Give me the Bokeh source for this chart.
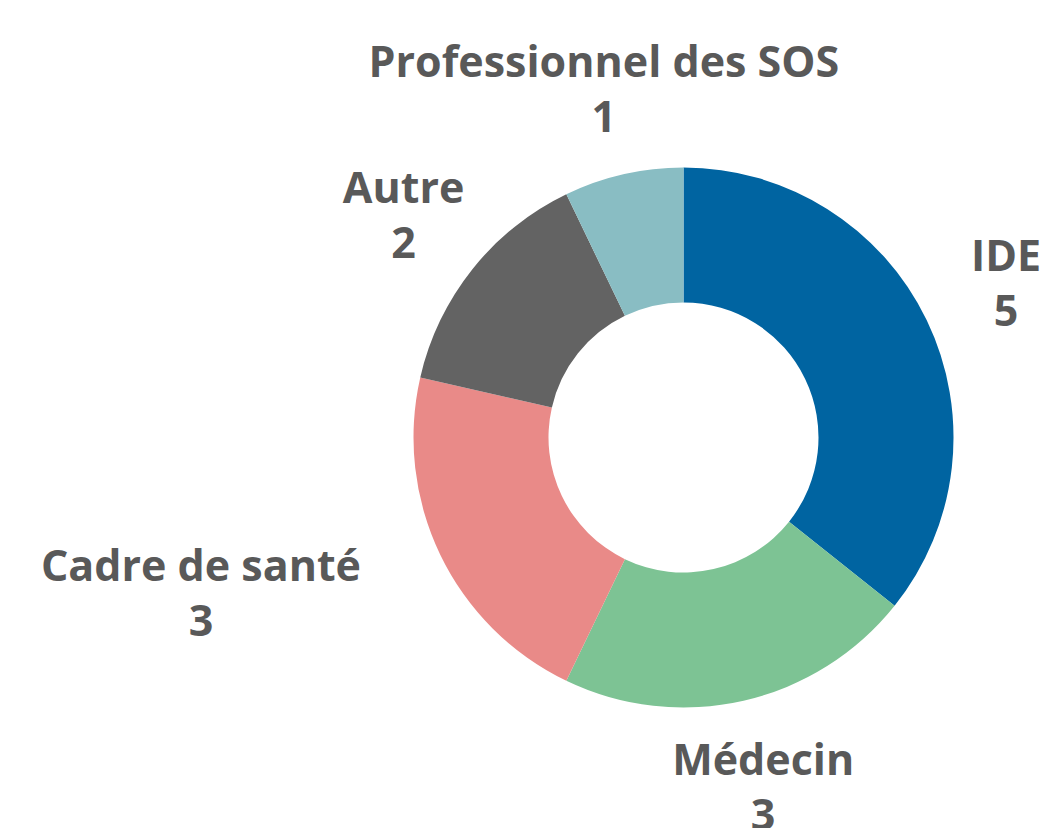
import math
from bokeh.plotting import figure
from bokeh.models import Range1d, ColumnDataSource
from bokeh.core.properties import value
from bokeh.embed import file_html
from bokeh.resources import INLINE

# ---- data ----
categories = ["IDE", "Médecin", "Cadre de santé", "Autre", "Professionnel des SOS"]
counts = [5, 3, 3, 2, 1]
colors = ["#0064A1", "#7DC394", "#E98A88", "#636363", "#89BDC3"]

# ---- layout ----
W, H = 1043, 828
CX_PAGE, CY_PAGE = 683, 437
R_OUT, R_IN = 270, 135
R_LABEL = 358
label_shift_x = [0, 0, -160, 0, 0]
FONT = "Open Sans"
FSIZE = "43px"
TXT = "#595959"

total = sum(counts)
starts, ends, mids = [], [], []
c = 0
for v in counts:
    a0 = math.pi / 2 - 2 * math.pi * c / total
    a1 = math.pi / 2 - 2 * math.pi * (c + v) / total
    starts.append(a0)
    ends.append(a1)
    mids.append((a0 + a1) / 2)
    c += v

src = ColumnDataSource(dict(start=starts, end=ends, color=colors, cat=categories, n=counts))

p = figure(width=W, height=H, output_backend="svg", toolbar_location=None,
           x_range=Range1d(-CX_PAGE, W - CX_PAGE),
           y_range=Range1d(-(H - CY_PAGE), CY_PAGE),
           min_border=0)
p.axis.visible = False
p.grid.visible = False
p.outline_line_color = None
p.background_fill_color = "white"
p.border_fill_color = "white"

p.annular_wedge(x=0, y=0, inner_radius=R_IN, outer_radius=R_OUT,
                start_angle="start", end_angle="end", direction="clock",
                fill_color="color", line_color=None, source=src)

lx = [R_LABEL * math.cos(m) + s for m, s in zip(mids, label_shift_x)]
ly = [R_LABEL * math.sin(m) for m in mids]
lab = ColumnDataSource(dict(x=lx, y1=[y + 28 for y in ly], y2=[y - 28 for y in ly],
                            name=categories, val=[str(v) for v in counts]))
for col, yk in (("name", "y1"), ("val", "y2")):
    p.text(x="x", y=yk, text=col, source=lab, text_align="center",
           text_baseline="alphabetic", text_font=value(FONT), text_font_style="bold",
           text_font_size=FSIZE, text_color=TXT)

open("out.html", "w").write(file_html(p, INLINE))
